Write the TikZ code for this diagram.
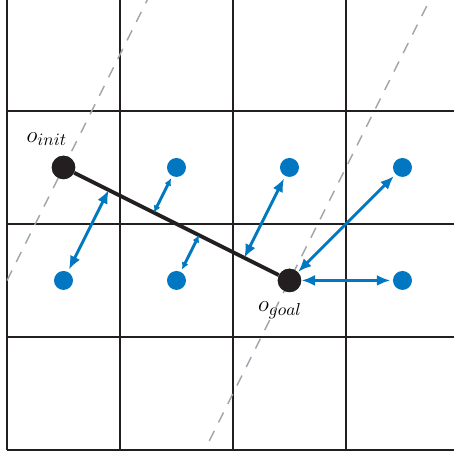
\documentclass[tikz,border=0pt]{standalone}
\usepackage{amsmath}
\usepackage{xcolor}
\usepackage{tikz}
\usetikzlibrary{positioning, arrows.meta, calc}

\definecolor{dotblue}{RGB}{0,119,192}
\definecolor{guidegray}{RGB}{160,164,172}
\definecolor{inkblack}{RGB}{35,31,32}

\begin{document}
\begin{tikzpicture}[x=2.5cm,y=2.5cm,>=Latex,
        gridline/.style={draw=inkblack, line width=1.2pt},
        guide/.style={draw=guidegray, line width=0.9pt, dash pattern=on 7pt off 6pt},
        bluedot/.style={circle, fill=dotblue, inner sep=0pt, minimum size=0.42cm},
        blackdot/.style={circle, fill=inkblack, inner sep=0pt, minimum size=0.52cm},
        link/.style={<->, draw=dotblue, line width=1.8pt, shorten <=1.5pt, >={Latex[length=8.5pt,width=7pt]}},
        short link/.style={link, >={Latex[length=4.5pt,width=4.5pt]}},
        lbl/.style={inner sep=0pt, font=\fontsize{15}{18}\selectfont}]
        % Frame
        \clip (-0.062,-0.035) rectangle (3.956,3.982);
        \draw[gridline, xstep=2.5cm, ystep=2.5cm] (0,0) grid (4,4);

        % Nodes
        \node (init) [blackdot] at (0.5,2.5) {};
        \node (goal) [blackdot] at (2.5,1.5) {};
        \node (b1) [bluedot] at (1.5,2.5) {};
        \node (b2) [bluedot] at (2.5,2.5) {};
        \node (b3) [bluedot] at (3.5,2.5) {};
        \node (b4) [bluedot] at (0.5,1.5) {};
        \node (b5) [bluedot] at (1.5,1.5) {};
        \node (b6) [bluedot] at (3.5,1.5) {};

        \node (initlbl) [lbl, xshift=-0.37cm, yshift=0.63cm] at (init) {$o_{init}$};
        \node (goallbl) [lbl, xshift=-0.21cm, yshift=-0.66cm] at (goal) {$o_{goal}$};

        % Feet on the segment
        \coordinate (f1) at ($(init)!(b1)!(goal)$);
        \coordinate (f2) at ($(init)!(b2)!(goal)$);
        \coordinate (f4) at ($(init)!(b4)!(goal)$);
        \coordinate (f5) at ($(init)!(b5)!(goal)$);

        % Guides
        \draw[guide] ($(init)+(-0.5,-1)$) -- ($(init)+(0.8,1.6)$);
        \draw[guide] ($(goal)+(-0.71,-1.42)$) -- ($(goal)+(1.3,2.6)$);

        % Segment
        \draw[draw=inkblack, line width=2.4pt] (init) -- (goal);

        % Arrows
        \draw[link] (b4) -- (f4);
        \draw[short link] (b1) -- (f1);
        \draw[short link] (b5) -- (f5);
        \draw[link] (b2) -- (f2);
        \draw[link] (b3) -- (goal);
        \draw[link] (b6) -- (goal);

        % Dots on top
        \node [blackdot] at (init) {};
        \node [blackdot] at (goal) {};
\end{tikzpicture}
\end{document}
